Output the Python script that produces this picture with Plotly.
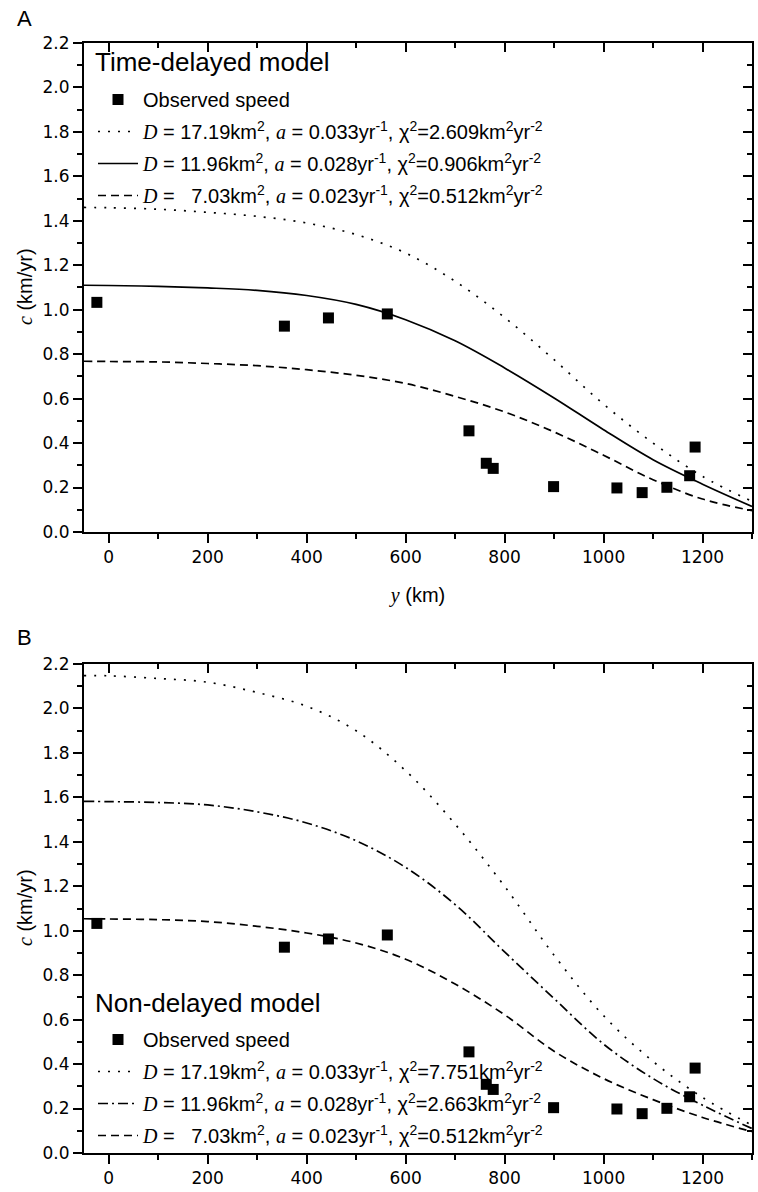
import plotly.graph_objects as go

# ---------------- data ----------------
obs_y_km = [-24, 355, 444, 563, 728, 763, 777, 899, 1027, 1078, 1128, 1174, 1185]
obs_speed = [1.033, 0.926, 0.963, 0.981, 0.455, 0.309, 0.286, 0.204, 0.198, 0.177, 0.201, 0.253, 0.382]

grid_km = [-50, 0, 100, 200, 300, 400, 500, 600, 700, 800, 900, 1000, 1100, 1200, 1300]

# Panel A: time-delayed model
a_dotted = [1.460, 1.459, 1.452, 1.438, 1.420, 1.390, 1.338, 1.255, 1.128, 0.965, 0.775, 0.575, 0.400, 0.250, 0.138]
a_solid = [1.110, 1.109, 1.105, 1.098, 1.087, 1.064, 1.024, 0.955, 0.860, 0.738, 0.603, 0.460, 0.325, 0.215, 0.115]
a_dashed = [0.768, 0.767, 0.765, 0.758, 0.748, 0.730, 0.705, 0.668, 0.610, 0.540, 0.450, 0.345, 0.235, 0.148, 0.096]

# Panel B: non-delayed model
b_dotted = [2.148, 2.147, 2.135, 2.118, 2.072, 2.010, 1.900, 1.720, 1.480, 1.200, 0.890, 0.618, 0.412, 0.250, 0.125]
b_dashdot = [1.582, 1.581, 1.577, 1.566, 1.535, 1.485, 1.405, 1.285, 1.118, 0.905, 0.695, 0.490, 0.335, 0.215, 0.110]
b_dashed = [1.054, 1.053, 1.050, 1.041, 1.020, 0.990, 0.945, 0.872, 0.760, 0.622, 0.458, 0.335, 0.240, 0.160, 0.096]

x_ticks = [0, 200, 400, 600, 800, 1000, 1200]
y_ticks = [0.0, 0.2, 0.4, 0.6, 0.8, 1.0, 1.2, 1.4, 1.6, 1.8, 2.0, 2.2]
y_ticklabels = ["0.0", "0.2", "0.4", "0.6", "0.8", "1.0", "1.2", "1.4", "1.6", "1.8", "2.0", "2.2"]

SERIF = "'Liberation Serif', 'Times New Roman', serif"
SANS = "'Liberation Sans', Arial, sans-serif"


def it(s):
    return f"<span style=\"font-family:{SERIF}\"><i>{s}</i></span>"


def label(D, a, chi):
    return (f"{it('D')} = {D}km<sup>2</sup>, {it('a')} = {a}yr<sup>-1</sup>, "
            f"χ<sup>2</sup>={chi}km<sup>2</sup>yr<sup>-2</sup>")


labels_a = [label("17.19", "0.033", "2.609"), label("11.96", "0.028", "0.906"),
            label("\u00a0\u00a07.03", "0.023", "0.512")]
labels_b = [label("17.19", "0.033", "7.751"), label("11.96", "0.028", "2.663"),
            label("\u00a0\u00a07.03", "0.023", "0.512")]

fig = go.Figure()

LW = 1.7
DOT = "2px,8px"
DASH = "8px,5px"
DASHDOT = "10px,4px,2px,4px"

# ---- panel A ----
fig.add_trace(go.Scatter(x=obs_y_km, y=obs_speed, mode="markers", name="Observed speed",
                         marker=dict(symbol="square", size=11, color="black"),
                         xaxis="x", yaxis="y", legend="legend", legendgroup="a0"))
for vals, dash, name, g in [(a_dotted, DOT, labels_a[0], "a1"), (a_solid, "solid", labels_a[1], "a2"),
                            (a_dashed, DASH, labels_a[2], "a3")]:
    fig.add_trace(go.Scatter(x=grid_km, y=vals, mode="lines", name=name, line_shape="spline",
                             line=dict(color="black", width=LW, dash=dash),
                             xaxis="x", yaxis="y", legend="legend", legendgroup=g))

# ---- panel B ----
fig.add_trace(go.Scatter(x=obs_y_km, y=obs_speed, mode="markers", name="Observed speed",
                         marker=dict(symbol="square", size=11, color="black"),
                         xaxis="x2", yaxis="y2", legend="legend2", legendgroup="b0"))
for vals, dash, name, g in [(b_dotted, DOT, labels_b[0], "b1"), (b_dashdot, DASHDOT, labels_b[1], "b2"),
                            (b_dashed, DASH, labels_b[2], "b3")]:
    fig.add_trace(go.Scatter(x=grid_km, y=vals, mode="lines", name=name, line_shape="spline",
                             line=dict(color="black", width=LW, dash=dash),
                             xaxis="x2", yaxis="y2", legend="legend2", legendgroup=g))

# helper traces (single null point, draws nothing) so mirror axes with inside ticks exist
for xa_, ya_ in [("x3", "y"), ("x", "y3"), ("x4", "y2"), ("x2", "y4")]:
    fig.add_trace(go.Scatter(x=[None], y=[None], mode="markers", xaxis=xa_, yaxis=ya_,
                             showlegend=False, hoverinfo="skip"))

XR = [-50, 1300]
YR = [0, 2.2]
dom_a = [0.5595, 1.0]
dom_b = [0.0, 0.4405]

tickfont = dict(family="'DejaVu Sans', sans-serif", size=17, color="black")


def xaxis_main(anchor):
    return dict(range=XR, domain=[0, 1], anchor=anchor, showgrid=False, zeroline=False, automargin=False,
                showline=True, linecolor="black", linewidth=2,
                ticks="outside", ticklen=9, tickwidth=2, tickcolor="black",
                tickvals=x_ticks, tickfont=tickfont,
                minor=dict(ticks="outside", ticklen=5, tickwidth=2, tickcolor="black", dtick=100, tick0=0))


def yaxis_main(anchor, domain):
    return dict(range=YR, domain=domain, anchor=anchor, showgrid=False, zeroline=False, automargin=False,
                showline=True, linecolor="black", linewidth=2,
                ticks="outside", ticklen=9, tickwidth=2, tickcolor="black",
                tickvals=y_ticks, ticktext=y_ticklabels, tickfont=tickfont,
                minor=dict(ticks="outside", ticklen=5, tickwidth=2, tickcolor="black", dtick=0.1, tick0=0))


def xaxis_mirror(overlay, anchor):
    return dict(range=XR, overlaying=overlay, anchor=anchor, side="top", showgrid=False, zeroline=False,
                automargin=False, showline=True, linecolor="black", linewidth=2, showticklabels=False,
                ticks="inside", ticklen=9, tickwidth=2, tickcolor="black", tickvals=x_ticks,
                minor=dict(ticks="inside", ticklen=5, tickwidth=2, tickcolor="black", dtick=100, tick0=0))


def yaxis_mirror(overlay, anchor):
    return dict(range=YR, overlaying=overlay, anchor=anchor, side="right", showgrid=False, zeroline=False,
                automargin=False, showline=True, linecolor="black", linewidth=2, showticklabels=False,
                ticks="inside", ticklen=9, tickwidth=2, tickcolor="black", tickvals=y_ticks,
                minor=dict(ticks="inside", ticklen=5, tickwidth=2, tickcolor="black", dtick=0.1, tick0=0))


xa = xaxis_main("y")
xa["title"] = dict(text=f"{it('y')} (km)", font=dict(family=SANS, size=20, color="black"), standoff=22)

legend_common = dict(bgcolor="rgba(0,0,0,0)", font=dict(family=SANS, size=20, color="black"),
                     tracegroupgap=3, itemwidth=40, xanchor="left", yanchor="top")

W, H = 758, 1192
ML, MR, MT, MB = 84, 6, 43, 39
plot_h = H - MT - MB
plot_w = W - ML - MR


def px_to_paper(px, py):
    return (px - ML) / plot_w, (H - MB - py) / plot_h


ax_, ay_ = px_to_paper(15, 18)
bx_, by_ = px_to_paper(15, 637)
t1x, t1y = px_to_paper(93, 62)
t2x, t2y = px_to_paper(93, 1003)
lx, l1y = px_to_paper(93, 80)
_, l2y = px_to_paper(0, 1020)
yt_x, yt1_y = px_to_paper(25, 287)
_, yt2_y = px_to_paper(25, 908)

ytitle = f"{it('c')} (km/yr)"
ytitle_font = dict(family=SANS, size=20, color="black")

fig.update_layout(
    width=W, height=H,
    margin=dict(l=ML, r=MR, t=MT, b=MB),
    paper_bgcolor="white", plot_bgcolor="white",
    showlegend=True,
    xaxis=xa,
    yaxis=yaxis_main("x", dom_a),
    xaxis2=xaxis_main("y2"),
    yaxis2=yaxis_main("x2", dom_b),
    xaxis3=xaxis_mirror("x", "y"),
    yaxis3=yaxis_mirror("y", "x"),
    xaxis4=xaxis_mirror("x2", "y2"),
    yaxis4=yaxis_mirror("y2", "x2"),
    legend=dict(legend_common, x=lx, y=l1y),
    legend2=dict(legend_common, x=lx, y=l2y),
    annotations=[
        dict(text="A", x=ax_, y=ay_, xref="paper", yref="paper", showarrow=False,
             xanchor="left", yanchor="middle", font=dict(family=SANS, size=22, color="black")),
        dict(text="B", x=bx_, y=by_, xref="paper", yref="paper", showarrow=False,
             xanchor="left", yanchor="middle", font=dict(family=SANS, size=22, color="black")),
        dict(text="Time-delayed model", x=t1x, y=t1y, xref="paper", yref="paper", showarrow=False,
             xanchor="left", yanchor="middle", font=dict(family=SANS, size=26, color="black")),
        dict(text="Non-delayed model", x=t2x, y=t2y, xref="paper", yref="paper", showarrow=False,
             xanchor="left", yanchor="middle", font=dict(family=SANS, size=26, color="black")),
        dict(text=ytitle, x=yt_x, y=yt1_y, xref="paper", yref="paper", showarrow=False, textangle=-90,
             xanchor="center", yanchor="middle", font=ytitle_font),
        dict(text=ytitle, x=yt_x, y=yt2_y, xref="paper", yref="paper", showarrow=False, textangle=-90,
             xanchor="center", yanchor="middle", font=ytitle_font),
    ],
)

fig.write_html("out.html", post_script="document.body.style.margin='0px';",
               config={"displayModeBar": False})
